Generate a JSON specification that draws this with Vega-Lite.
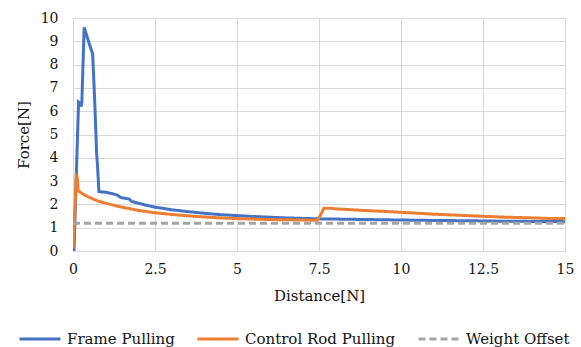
{
  "$schema": "https://vega.github.io/schema/vega-lite/v6.json",
  "autosize": "none",
  "width": 492,
  "height": 233,
  "padding": {"left": 73, "top": 18, "right": 16, "bottom": 96},
  "background": "white",
  "config": {
    "font": "DejaVu Serif",
    "view": {"stroke": null},
    "style": {"guide-label": {"font": "DejaVu Serif"}, "guide-title": {"font": "DejaVu Serif"}},
    "axis": {"labelFont": "DejaVu Serif", "titleFont": "DejaVu Serif", "labelColor": "#111", "titleColor": "#111", "titleFontWeight": "normal", "gridColor": "#D9D9D9", "gridWidth": 1, "domain": false, "ticks": false, "tickSize": 0},
    "legend": {"labelFont": "DejaVu Serif", "labelColor": "#111"}
  },
  "data": {"values": [
    {"s": "Frame Pulling", "x": 0.03, "y": 0},
    {"s": "Frame Pulling", "x": 0.17, "y": 6.4},
    {"s": "Frame Pulling", "x": 0.22, "y": 6.35},
    {"s": "Frame Pulling", "x": 0.25, "y": 6.2},
    {"s": "Frame Pulling", "x": 0.27, "y": 6.4},
    {"s": "Frame Pulling", "x": 0.34, "y": 9.6},
    {"s": "Frame Pulling", "x": 0.45, "y": 9.1},
    {"s": "Frame Pulling", "x": 0.6, "y": 8.45},
    {"s": "Frame Pulling", "x": 0.66, "y": 6.5},
    {"s": "Frame Pulling", "x": 0.72, "y": 4.2},
    {"s": "Frame Pulling", "x": 0.75, "y": 3.6},
    {"s": "Frame Pulling", "x": 0.79, "y": 2.55},
    {"s": "Frame Pulling", "x": 1.0, "y": 2.52},
    {"s": "Frame Pulling", "x": 1.2, "y": 2.46},
    {"s": "Frame Pulling", "x": 1.35, "y": 2.4},
    {"s": "Frame Pulling", "x": 1.45, "y": 2.3},
    {"s": "Frame Pulling", "x": 1.6, "y": 2.26},
    {"s": "Frame Pulling", "x": 1.7, "y": 2.24},
    {"s": "Frame Pulling", "x": 1.8, "y": 2.12},
    {"s": "Frame Pulling", "x": 2.0, "y": 2.05},
    {"s": "Frame Pulling", "x": 2.25, "y": 1.96},
    {"s": "Frame Pulling", "x": 2.5, "y": 1.88},
    {"s": "Frame Pulling", "x": 2.75, "y": 1.83},
    {"s": "Frame Pulling", "x": 3.0, "y": 1.77},
    {"s": "Frame Pulling", "x": 3.5, "y": 1.69},
    {"s": "Frame Pulling", "x": 4.0, "y": 1.62},
    {"s": "Frame Pulling", "x": 4.5, "y": 1.56},
    {"s": "Frame Pulling", "x": 5.0, "y": 1.52},
    {"s": "Frame Pulling", "x": 5.5, "y": 1.48},
    {"s": "Frame Pulling", "x": 6.0, "y": 1.45},
    {"s": "Frame Pulling", "x": 6.5, "y": 1.42},
    {"s": "Frame Pulling", "x": 7.0, "y": 1.4},
    {"s": "Frame Pulling", "x": 7.5, "y": 1.38},
    {"s": "Frame Pulling", "x": 8.0, "y": 1.37},
    {"s": "Frame Pulling", "x": 9.0, "y": 1.35},
    {"s": "Frame Pulling", "x": 10.0, "y": 1.33},
    {"s": "Frame Pulling", "x": 11.0, "y": 1.31},
    {"s": "Frame Pulling", "x": 12.0, "y": 1.3},
    {"s": "Frame Pulling", "x": 13.0, "y": 1.28},
    {"s": "Frame Pulling", "x": 14.0, "y": 1.27},
    {"s": "Frame Pulling", "x": 15.0, "y": 1.26},
    {"s": "Control Rod Pulling", "x": 0.0, "y": 0.1},
    {"s": "Control Rod Pulling", "x": 0.05, "y": 1.5},
    {"s": "Control Rod Pulling", "x": 0.1, "y": 3.22},
    {"s": "Control Rod Pulling", "x": 0.13, "y": 3.15},
    {"s": "Control Rod Pulling", "x": 0.16, "y": 2.58},
    {"s": "Control Rod Pulling", "x": 0.3, "y": 2.45},
    {"s": "Control Rod Pulling", "x": 0.5, "y": 2.3},
    {"s": "Control Rod Pulling", "x": 0.75, "y": 2.15},
    {"s": "Control Rod Pulling", "x": 1.0, "y": 2.05},
    {"s": "Control Rod Pulling", "x": 1.25, "y": 1.96},
    {"s": "Control Rod Pulling", "x": 1.5, "y": 1.88},
    {"s": "Control Rod Pulling", "x": 1.75, "y": 1.81},
    {"s": "Control Rod Pulling", "x": 2.0, "y": 1.74},
    {"s": "Control Rod Pulling", "x": 2.5, "y": 1.64},
    {"s": "Control Rod Pulling", "x": 3.0, "y": 1.57},
    {"s": "Control Rod Pulling", "x": 3.5, "y": 1.51},
    {"s": "Control Rod Pulling", "x": 4.0, "y": 1.46},
    {"s": "Control Rod Pulling", "x": 4.5, "y": 1.42},
    {"s": "Control Rod Pulling", "x": 5.0, "y": 1.39},
    {"s": "Control Rod Pulling", "x": 5.5, "y": 1.37},
    {"s": "Control Rod Pulling", "x": 6.0, "y": 1.35},
    {"s": "Control Rod Pulling", "x": 6.5, "y": 1.34},
    {"s": "Control Rod Pulling", "x": 7.0, "y": 1.33},
    {"s": "Control Rod Pulling", "x": 7.45, "y": 1.32},
    {"s": "Control Rod Pulling", "x": 7.55, "y": 1.55},
    {"s": "Control Rod Pulling", "x": 7.65, "y": 1.84},
    {"s": "Control Rod Pulling", "x": 7.8, "y": 1.84},
    {"s": "Control Rod Pulling", "x": 8.0, "y": 1.81},
    {"s": "Control Rod Pulling", "x": 8.5, "y": 1.77},
    {"s": "Control Rod Pulling", "x": 9.0, "y": 1.73},
    {"s": "Control Rod Pulling", "x": 9.5, "y": 1.7},
    {"s": "Control Rod Pulling", "x": 10.0, "y": 1.66},
    {"s": "Control Rod Pulling", "x": 10.5, "y": 1.62},
    {"s": "Control Rod Pulling", "x": 11.0, "y": 1.58},
    {"s": "Control Rod Pulling", "x": 11.5, "y": 1.55},
    {"s": "Control Rod Pulling", "x": 12.0, "y": 1.52},
    {"s": "Control Rod Pulling", "x": 12.5, "y": 1.49},
    {"s": "Control Rod Pulling", "x": 13.0, "y": 1.46},
    {"s": "Control Rod Pulling", "x": 13.5, "y": 1.44},
    {"s": "Control Rod Pulling", "x": 14.0, "y": 1.42},
    {"s": "Control Rod Pulling", "x": 14.5, "y": 1.4},
    {"s": "Control Rod Pulling", "x": 15.0, "y": 1.39},
    {"s": "Weight Offset", "x": 0.0, "y": 1.19},
    {"s": "Weight Offset", "x": 15.0, "y": 1.19}
  ]},
  "mark": {"type": "line", "strokeWidth": 3, "clip": true},
  "encoding": {
    "x": {"field": "x", "type": "quantitative", "title": "Distance[N]",
      "scale": {"domain": [0, 15], "nice": false},
      "axis": {"values": [0, 2.5, 5, 7.5, 10, 12.5, 15], "labelExpr": "'' + datum.value", "labelFontSize": 14, "labelPadding": 11, "titleFontSize": 15, "titlePadding": 12, "labelFlush": false,
        "encode": {"labels": {"update": {"font": {"value": "DejaVu Serif"}}}}}},
    "y": {"field": "y", "type": "quantitative", "title": "Force[N]",
      "scale": {"domain": [0, 10], "nice": false},
      "axis": {"values": [0,1,2,3,4,5,6,7,8,9,10], "labelFontSize": 14, "labelPadding": 15, "titleFontSize": 15, "titlePadding": 9,
        "encode": {"labels": {"update": {"font": {"value": "DejaVu Serif"}}}}}},
    "color": {"field": "s", "type": "nominal",
      "scale": {"domain": ["Frame Pulling", "Control Rod Pulling", "Weight Offset"], "range": ["#4472C4", "#ED7D31", "#A5A5A5"]},
      "legend": {"title": null, "orient": "none", "legendX": -55, "legendY": 299, "direction": "horizontal", "columns": 3, "symbolType": "stroke", "symbolSize": 1681, "symbolStrokeWidth": 3, "labelFontSize": 15, "labelOffset": 5, "columnPadding": 16,
        "encode": {"labels": {"update": {"font": {"value": "DejaVu Serif"}}}}}},
    "strokeDash": {"field": "s", "type": "nominal",
      "scale": {"domain": ["Frame Pulling", "Control Rod Pulling", "Weight Offset"], "range": [[1, 0], [1, 0], [7, 4]]},
      "legend": null},
    "order": {"field": "x", "type": "quantitative"}
  }
}
